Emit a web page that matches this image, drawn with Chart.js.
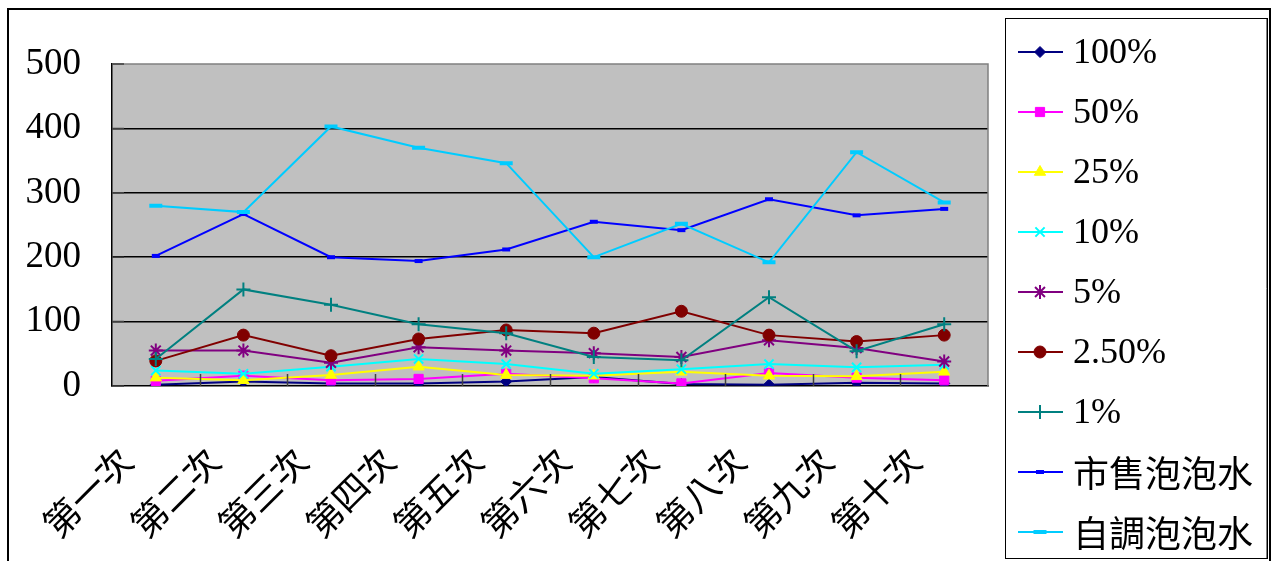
<!DOCTYPE html>
<html>
<head>
<meta charset="utf-8">
<script src="https://cdn.jsdelivr.net/npm/chart.js@4/dist/chart.umd.min.js"></script>
<style>
  html, body { margin: 0; padding: 0; background: #fff; }
  #wrap { position: relative; width: 1273px; height: 561px; }
</style>
</head>
<body>
<div id="wrap"><canvas id="c" width="1273" height="561"></canvas></div>
<script>
// ---- data ----
const categories = ['第一次','第二次','第三次','第四次','第五次','第六次','第七次','第八次','第九次','第十次'];
const yTicks = [0, 100, 200, 300, 400, 500];
const seriesNames = ['100%','50%','25%','10%','5%','2.50%','1%','市售泡泡水','自調泡泡水'];
const s100 = [2, 7, 4, 4, 7, 14, 3, 2, 5, 4];
const s50 = [8, 16, 9, 11, 19, 12, 4, 20, 13, 9];
const s25 = [13, 9, 17, 30, 17, 16, 22, 16, 15, 22];
const s10 = [24, 19, 30, 42, 34, 19, 26, 34, 29, 33];
const s5 = [55, 55, 36, 60, 55, 51, 45, 71, 59, 38];
const s2_5 = [39, 79, 47, 73, 87, 82, 116, 79, 69, 79];
const s1 = [42, 150, 126, 96, 82, 45, 40, 138, 54, 96];
const sMarket = [202, 267, 200, 194, 212, 255, 242, 290, 265, 275];
const sHome = [280, 270, 403, 370, 346, 200, 252, 192, 363, 285];

const seriesData = [s100, s50, s25, s10, s5, s2_5, s1, sMarket, sHome];
const colors = ['#000080','#FF00FF','#FFFF00','#00FFFF','#800080','#800000','#008080','#0000FF','#00CCFF'];
const styles = [
  {pointStyle:'rectRot', radius:5.5, bw:1, fill:true},
  {pointStyle:'rect', radius:6.5, bw:1, fill:true},
  {pointStyle:'triangle', radius:6.5, bw:1, fill:true},
  {pointStyle:'crossRot', radius:6.5, bw:2, fill:false},
  {pointStyle:'star', radius:7, bw:2, fill:false},
  {pointStyle:'circle', radius:6, bw:1, fill:true},
  {pointStyle:'cross', radius:7, bw:2, fill:false},
  {pointStyle:'line', radius:4, bw:4, fill:false},
  {pointStyle:'line', radius:6.5, bw:4, fill:false}
];

const datasets = seriesData.map((d, i) => ({
  label: seriesNames[i],
  data: d,
  borderColor: colors[i],
  backgroundColor: colors[i],
  borderWidth: 2,
  pointStyle: styles[i].pointStyle,
  pointRadius: styles[i].radius,
  pointBorderWidth: styles[i].bw,
  pointBackgroundColor: colors[i],
  pointBorderColor: colors[i],
  tension: 0,
  order: seriesNames.length - i
}));

const SERIF = '"Liberation Serif", "Times New Roman", serif';
const CJK = '"Noto Sans CJK TC", "Noto Sans CJK SC", sans-serif';

const decor = {
  id: 'decor',
  beforeDraw(chart) {
    const ctx = chart.ctx, a = chart.chartArea;
    ctx.save();
    ctx.fillStyle = '#fff';
    ctx.fillRect(0, 0, chart.width, chart.height);
    // outer border
    ctx.strokeStyle = '#000';
    ctx.lineWidth = 2;
    ctx.strokeRect(8, 9, 1262, 570);
    // plot background
    ctx.fillStyle = '#C0C0C0';
    ctx.fillRect(a.left, a.top, a.right - a.left, a.bottom - a.top);
    ctx.restore();
  },
  afterDatasetsDraw(chart) {
    const ctx = chart.ctx, a = chart.chartArea;
    const xs = chart.scales.x, ys = chart.scales.y;
    ctx.save();
    // gray top / right border
    ctx.strokeStyle = '#808080';
    ctx.lineWidth = 1.5;
    ctx.beginPath();
    ctx.moveTo(a.left, a.top); ctx.lineTo(a.right, a.top); ctx.lineTo(a.right, a.bottom);
    ctx.stroke();
    // inner tick marks
    ctx.strokeStyle = '#404040';
    ctx.lineWidth = 1.5;
    ctx.beginPath();
    const n = categories.length;
    const step = (xs.getPixelForTick(n - 1) - xs.getPixelForTick(0)) / (n - 1);
    for (let i = 1; i < n; i++) {
      const x = Math.round(xs.getPixelForTick(i) - step / 2) + 0.5;
      ctx.moveTo(x, a.bottom); ctx.lineTo(x, a.bottom - 12);
    }
    yTicks.forEach(v => {
      const y = ys.getPixelForValue(v);
      ctx.moveTo(a.left, y); ctx.lineTo(a.left + 12, y);
    });
    ctx.stroke();
    ctx.restore();
  },
  afterDraw(chart) {
    const ctx = chart.ctx, a = chart.chartArea;
    const xs = chart.scales.x;
    ctx.save();
    // x labels, rotated 45°
    ctx.fillStyle = '#000';
    ctx.font = '36px ' + CJK;
    ctx.textAlign = 'right';
    ctx.textBaseline = 'middle';
    categories.forEach((lab, i) => {
      const x = xs.getPixelForTick(i) - 30;
      const y = a.bottom + 68;
      ctx.save();
      ctx.translate(x, y);
      ctx.rotate(-Math.PI / 4);
      ctx.fillText(lab, 0, 0);
      ctx.restore();
    });
    // legend box
    ctx.fillStyle = '#fff';
    ctx.fillRect(1005, 18, 262, 540);
    ctx.strokeStyle = '#000';
    ctx.lineWidth = 1;
    ctx.strokeRect(1005.5, 18.5, 262, 540);
    ctx.strokeStyle = '#808080';
    ctx.beginPath(); ctx.moveTo(1266.5, 19); ctx.lineTo(1266.5, 558); ctx.stroke();
    seriesNames.forEach((name, i) => {
      const y = 52 + i * 60;
      ctx.strokeStyle = colors[i];
      ctx.lineWidth = 2;
      ctx.beginPath(); ctx.moveTo(1018, y); ctx.lineTo(1063, y); ctx.stroke();
      ctx.fillStyle = colors[i];
      ctx.strokeStyle = colors[i];
      ctx.lineWidth = styles[i].bw;
      if (Chart.helpers && Chart.helpers.drawPoint) {
        Chart.helpers.drawPoint(ctx, {pointStyle: styles[i].pointStyle, rotation: 0, radius: styles[i].radius, borderWidth: styles[i].bw}, 1040, y);
      }
      ctx.fillStyle = '#000';
      ctx.textAlign = 'left';
      ctx.textBaseline = 'middle';
      const isCJK = /[^\x00-\x7F]/.test(name);
      ctx.font = isCJK ? '36px ' + CJK : '36px ' + SERIF;
      ctx.fillText(name, 1073, y + (isCJK ? 1 : 2));
    });
    ctx.restore();
  }
};

new Chart(document.getElementById('c'), {
  type: 'line',
  data: { labels: categories, datasets },
  plugins: [decor],
  options: {
    responsive: false,
    animation: false,
    layout: { padding: { left: 0, top: 64, right: 285, bottom: 0 } },
    plugins: { legend: { display: false }, tooltip: { enabled: false } },
    scales: {
      x: {
        offset: true,
        grid: { display: false, drawTicks: false },
        border: { display: true, color: '#000', width: 1.5 },
        ticks: { display: false },
        afterFit: s => { s.height = 175; }
      },
      y: {
        min: 0, max: 500,
        afterBuildTicks: s => { s.ticks = yTicks.map(v => ({ value: v })); },
        grid: {
          drawTicks: false,
          color: c => (c.tick && c.tick.value > 0 && c.tick.value < 500) ? '#000' : 'rgba(0,0,0,0)',
          lineWidth: 1.5
        },
        border: { display: true, color: '#000', width: 1.5 },
        ticks: {
          padding: 31,
          color: '#000',
          font: { family: SERIF, size: 37 }
        },
        afterFit: s => { s.width = 112; }
      }
    }
  }
});
</script>
</body>
</html>
